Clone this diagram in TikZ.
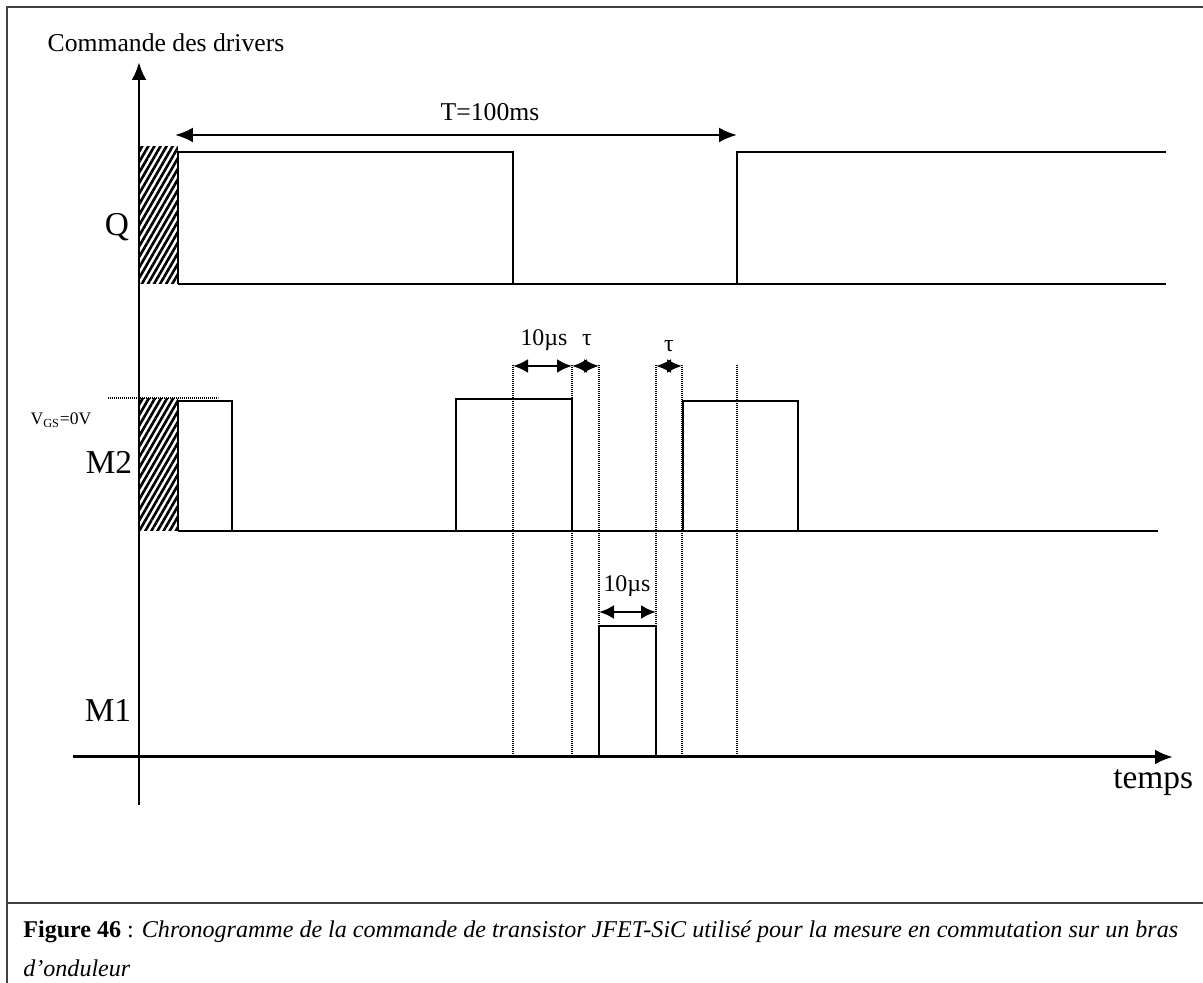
\documentclass[tikz,border=0pt]{standalone}
\usepackage{fontspec}
\setmainfont{Liberation Serif}
\usetikzlibrary{arrows.meta,patterns.meta}

\begin{document}
\begin{tikzpicture}[>={Latex[length=3.6mm,width=3mm]},
  signal/.style={line width=1.4pt, line join=miter},
  axis/.style={line width=1.7pt},
  guide/.style={line width=0.8pt, dash pattern=on 0.569pt off 0.569pt},
  hatch/.style={pattern={Lines[angle=60,distance=3pt,line width=1.5pt]}},
  dim/.style={<->, line width=1.5pt},
  smalldim/.style={<->, line width=1.5pt, >={Latex[length=3mm,width=2.8mm]}},
  lbl/.style={inner sep=0pt}]

  \useasboundingbox (-2.78,-4.52) rectangle (21.28,15.14);

  % ============== Frame ==============
  \draw[black!75, line width=1pt] (-2.64,-4.7) -- (-2.64,15.0) -- (21.5,15.0);
  \draw[black!75, line width=0.8pt] (-2.64,-2.92) -- (21.5,-2.92);

  % ============== Axes ==============
  \draw[axis,->] (0,-0.96) -- (0,13.9);
  \draw[axis,->] (-1.32,0) -- (20.68,0);
  \node[lbl, font=\fontsize{14.6}{16}\selectfont] (ylabel) at (0.54,14.28) {Commande des drivers};
  \node[lbl, font=\fontsize{19}{21}\selectfont, anchor=west] (xlabel) at (19.48,-0.52) {temps};

  % ============== Q ==============
  \fill[hatch] (0,9.46) rectangle (0.78,12.2);
  \node[lbl, font=\fontsize{19}{21}\selectfont] (qlabel) at (-0.44,10.6) {Q};
  \draw[signal] (0.78,9.46) -- (0.78,12.1) -- (7.48,12.1) -- (7.48,9.46);
  \draw[signal] (11.96,9.46) -- (11.96,12.1) -- (18.72,12.1);
  \draw[signal] (0.78,9.46) -- (18.72,9.46);
  \draw[line width=0.8pt] (18.72,12.1) -- (20.54,12.1);
  \draw[line width=0.8pt] (18.72,9.46) -- (20.54,9.46);

  % Period
  \coordinate (tstart) at (0.72,12.44);
  \coordinate (tend) at (11.96,12.44);
  \draw[dim] (tstart) -- (tend);
  \node[lbl, font=\fontsize{14.6}{16}\selectfont] (tlabel) at (7.02,12.9) {T=100ms};

  % ============== M2 ==============
  \fill[hatch] (0,4.52) rectangle (0.78,7.16);
  \draw[guide] (-0.62,7.18) -- (1.58,7.18);
  \node[lbl, font=\fontsize{10}{12}\selectfont] (vgs) at (-1.56,6.74) {V\textsubscript{\fontsize{7}{8}\selectfont GS}=0V};
  \node[lbl, font=\fontsize{19}{21}\selectfont] (mtwo) at (-0.6,5.9) {M2};
  \draw[signal] (0.78,4.52) -- (0.78,7.12) -- (1.86,7.12) -- (1.86,4.52);
  \draw[signal] (0.78,4.52) -- (20.38,4.52);
  \draw[signal] (6.34,4.52) -- (6.34,7.16) -- (8.66,7.16) -- (8.66,4.52);
  \draw[signal] (10.88,4.52) -- (10.88,7.12) -- (13.18,7.12) -- (13.18,4.52);

  % ============== M1 ==============
  \node[lbl, font=\fontsize{19}{21}\selectfont] (mone) at (-0.62,0.94) {M1};
  \draw[signal] (9.2,0) -- (9.2,2.62) -- (10.34,2.62) -- (10.34,0);

  % Dotted guides
  \foreach \x in {7.48,8.66,9.2,10.34,10.86,11.96}
    \draw[guide] (\x,7.84) -- (\x,0);

  % Dead times and pulse widths
  \coordinate (wa) at (7.48,7.82);
  \coordinate (wb) at (8.66,7.82);
  \coordinate (wc) at (9.2,7.82);
  \coordinate (wd) at (10.34,7.82);
  \coordinate (we) at (10.86,7.82);
  \coordinate (pa) at (9.2,2.9);
  \coordinate (pb) at (10.34,2.9);
  \draw[smalldim] (wa) -- (wb);
  \draw[smalldim] (wb) -- (wc);
  \draw[smalldim] (wd) -- (we);
  \draw[smalldim] (pa) -- (pb);
  \node[lbl, font=\fontsize{13.6}{15}\selectfont] (wlabel) at (8.1,8.34) {10µs};
  \node[lbl, font=\fontsize{13.6}{15}\selectfont] (tauone) at (8.96,8.34) {τ};
  \node[lbl, font=\fontsize{13.6}{15}\selectfont] (tautwo) at (10.6,8.22) {τ};
  \node[lbl, font=\fontsize{13.6}{15}\selectfont] (plabel) at (9.76,3.42) {10µs};

  % ============== Caption ==============
  \node[lbl, anchor=west, font=\fontsize{13.7}{15}\selectfont] (capone) at (-2.32,-3.5)
    {\textbf{Figure 46} : \textit{Chronogramme de la commande de transistor JFET-SiC utilisé pour la mesure en commutation sur un bras}};
  \node[lbl, anchor=west, font=\fontsize{13.7}{15}\selectfont] (captwo) at (-2.32,-4.22)
    {\textit{d’onduleur}};

\end{tikzpicture}
\end{document}
